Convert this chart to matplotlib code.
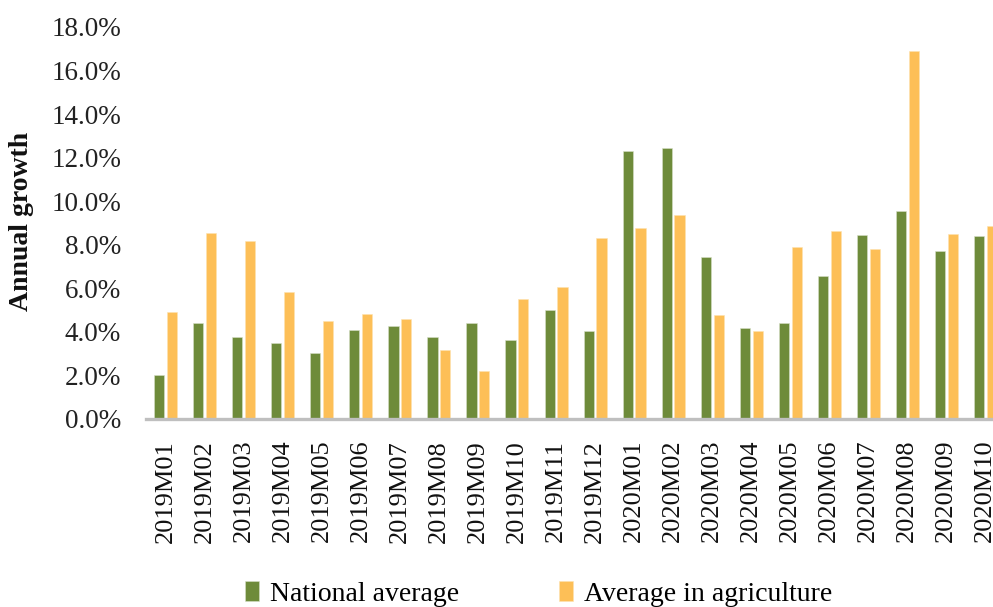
import matplotlib
matplotlib.use("Agg")
import matplotlib.pyplot as plt
import numpy as np
from matplotlib.ticker import FuncFormatter

categories = ["2019M01", "2019M02", "2019M03", "2019M04", "2019M05", "2019M06",
              "2019M07", "2019M08", "2019M09", "2019M10", "2019M11", "2019M12",
              "2020M01", "2020M02", "2020M03", "2020M04", "2020M05", "2020M06",
              "2020M07", "2020M08", "2020M09", "2020M10"]
national = [2.0, 4.4, 3.75, 3.5, 3.05, 4.1, 4.25, 3.75, 4.4, 3.62, 5.0, 4.05,
            12.3, 12.45, 7.45, 4.17, 4.4, 6.55, 8.45, 9.55, 7.72, 8.42]
agriculture = [4.92, 8.52, 8.18, 5.85, 4.52, 4.8, 4.58, 3.18, 2.2, 5.52, 6.07, 8.32,
               8.77, 9.38, 4.78, 4.02, 7.9, 8.62, 7.8, 16.9, 8.5, 8.88]
series_names = ["National average", "Average in agriculture"]
yticks = [0, 2, 4, 6, 8, 10, 12, 14, 16, 18]

green = "#6E8B3A"
orange = "#FDBF57"
FONT = "Liberation Serif"

fig = plt.figure(figsize=(9.93, 6.07), dpi=100)
left_px, right_px = 146.2, 146.2 + 22 * 39.03
bottom_px, top_px = 419, 27
W, H = 993, 607
ax = fig.add_axes([left_px / W, 1 - bottom_px / H, (right_px - left_px) / W, (bottom_px - top_px) / H])

x = np.arange(len(categories))
bw = 0.26
off = 0.165
ax.bar(x - off, national, bw, color=green, edgecolor="#d8e0c8", linewidth=0.4, label=series_names[0])
ax.bar(x + off, agriculture, bw, color=orange, edgecolor="#fde3b0", linewidth=0.4, label=series_names[1])

ax.set_xlim(-0.5, len(categories) - 0.5)
ax.set_ylim(0, 18)
ax.set_yticks(yticks)
ax.yaxis.set_major_formatter(FuncFormatter(lambda v, p: f"{v:.1f}%"))
ax.set_xticks(x)
ax.set_xticklabels(categories, rotation=90)

for s in ["top", "right", "left"]:
    ax.spines[s].set_visible(False)
ax.spines["bottom"].set_color("#bfbfbf")
ax.spines["bottom"].set_linewidth(2.4)

ax.tick_params(axis="y", length=0, pad=18, labelsize=19.5, labelcolor="#222222")
ax.tick_params(axis="x", length=0, pad=15, labelsize=19, labelcolor="#111111")
for lbl in ax.get_yticklabels() + ax.get_xticklabels():
    lbl.set_fontfamily(FONT)

fig.text(22 / W, 1 - 221 / H, "Annual growth", rotation=90, ha="center", va="center",
         fontsize=20, fontweight="bold", fontfamily=FONT, color="#111111")

leg = fig.legend(loc="center", bbox_to_anchor=(539 / W, 1 - 594 / H), ncol=2, frameon=False,
                 prop={"family": FONT, "size": 20}, handlelength=0.5, handleheight=0.7,
                 handletextpad=0.4, columnspacing=3.6)

fig.savefig("out.png", dpi=100)
